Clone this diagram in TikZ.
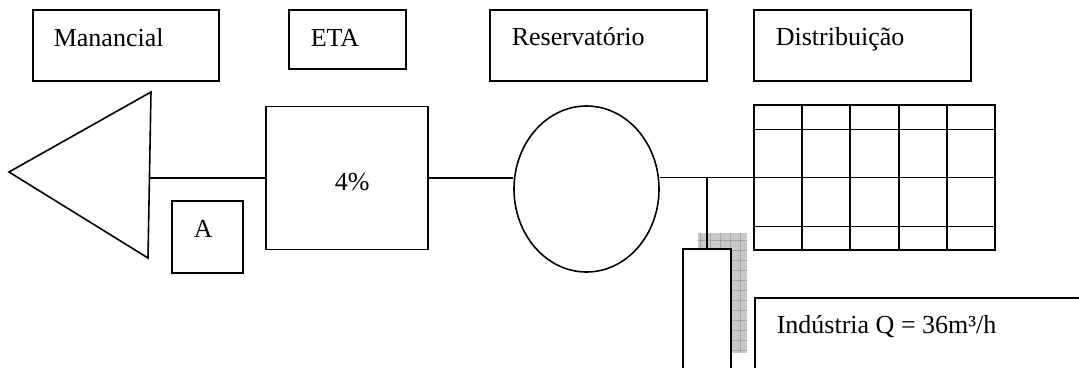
\documentclass[tikz,border=0pt]{standalone}
\usepackage{fontspec}
\setmainfont{Liberation Serif}
\usetikzlibrary{shapes.geometric,calc}
\tikzset{
  box/.style={draw, rectangle, fill=white, inner sep=0pt},
  lbl/.style={anchor=base west, inner sep=0pt, font=\fontsize{26}{30}\selectfont},
  pipe/.style={draw}
}
\begin{document}
\begin{tikzpicture}[x=1pt,y=-1pt,line width=1.6pt]
\useasboundingbox (0,0) rectangle (1079,367);
% header boxes
\node[box, minimum width=186pt, minimum height=71pt] (hman) at (126,45.5) {};
\node[box, minimum width=117pt, minimum height=59pt] (heta) at (347.5,39.5) {};
\node[box, minimum width=217pt, minimum height=71pt] (hres) at (598.5,45.5) {};
\node[box, minimum width=217pt, minimum height=71pt] (hdis) at (862.5,45.5) {};
\node[lbl] (tman) at (53,46) {Manancial};
\node[lbl] (teta) at (310,46) {ETA};
\node[lbl] (tres) at (511,45) {Reservatório};
\node[lbl] (tdis) at (775,45) {Distribuição};
% source triangle
\draw (9,172) -- (151,92) -- (148,258) -- cycle;
\coordinate (tri) at (149.5,178);
% treatment box
\node[box, minimum width=162pt, minimum height=143pt] (eta) at (347,178) {};
\node[lbl] (tpct) at (334,190) {4\%};
% A box
\node[box, minimum width=71pt, minimum height=72pt] (abox) at (207.5,237) {};
\node[lbl] (ta) at (193,237) {A};
% reservoir
\node[draw, ellipse, minimum width=145pt, minimum height=166pt, inner sep=0pt] (res) at (586.5,189) {};
% distribution grid
\node[box, minimum width=241pt, minimum height=145pt] (grid) at (874.5,177.5) {};
\foreach \f in {0.2,0.4,0.6,0.8}
  \draw ($(grid.north west)!\f!(grid.north east)$) -- ($(grid.south west)!\f!(grid.south east)$);
\foreach \f in {0.172,0.5,0.834}
  \draw ($(grid.north west)!\f!(grid.south west)$) -- ($(grid.north east)!\f!(grid.south east)$);
% industry branch: shadow and tall box
\begin{scope}
\clip (698,233) rectangle (747,353);
\fill[gray!42] (698,233) rectangle (747,353);
\draw[gray!70, line width=0.5pt] (698,233) grid[step=10pt] (747,353);
\end{scope}
\node[box, minimum width=48pt, minimum height=131pt] (ind) at (707,314.5) {};
\node[box, minimum width=340pt, minimum height=110pt, anchor=north west] (indbox) at (754,297) {};
\node[lbl] (tind) at (776,333) {Indústria Q = 36m³/h};
% connectors
\draw (tri) -- (tri -| eta.west);
\draw (eta.east) -- (eta.east -| res.west);
\coordinate (j) at (ind.north |- grid.west);
\draw (res.east |- grid.west) -- (grid.west);
\draw (j) -- (ind.north);
\end{tikzpicture}
\end{document}
